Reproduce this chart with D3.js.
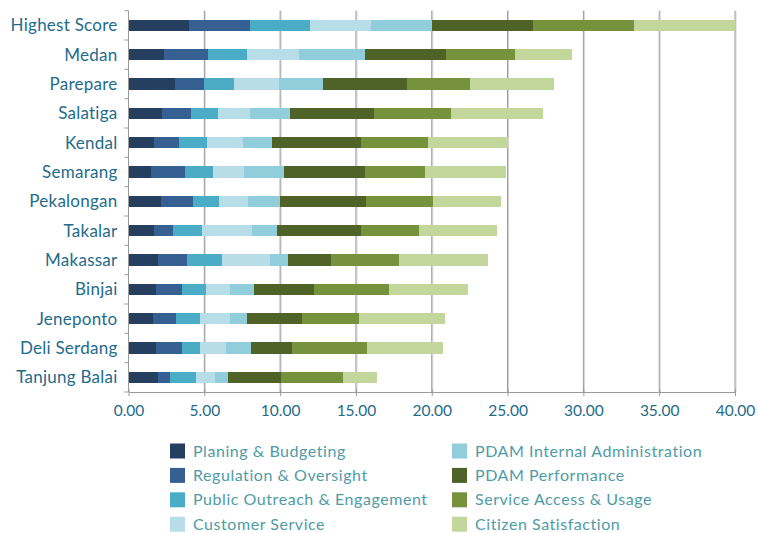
<!DOCTYPE html>
<html>
<head>
<meta charset="utf-8">
<script src="https://cdn.jsdelivr.net/npm/d3@7"></script>
<style>
  html, body { margin: 0; padding: 0; background: #fff; }
  svg { display: block; }
</style>
</head>
<body>
<svg id="chart" width="758" height="533"></svg>
<script>
const categories = ["Highest Score","Medan","Parepare","Salatiga","Kendal","Semarang","Pekalongan","Takalar","Makassar","Binjai","Jeneponto","Deli Serdang","Tanjung Balai"];
const seriesNames = ["Planing & Budgeting","Regulation & Oversight","Public Outreach & Engagement","Customer Service","PDAM Internal Administration","PDAM Performance","Service Access & Usage","Citizen Satisfaction"];
const planingBudgeting     = [4.00, 2.34, 3.07, 2.21, 1.68, 1.48, 2.14, 1.68, 1.95, 1.81, 1.62, 1.81, 1.95];
const regulationOversight  = [4.00, 2.90, 1.91, 1.91, 1.65, 2.25, 2.11, 1.26, 1.91, 1.72, 1.51, 1.72, 0.79];
const publicOutreach       = [4.00, 2.58, 1.98, 1.78, 1.85, 1.84, 1.72, 1.91, 2.31, 1.58, 1.59, 1.19, 1.71];
const customerService      = [4.00, 3.43, 2.97, 2.11, 2.37, 2.05, 1.91, 3.30, 3.16, 1.59, 1.98, 1.71, 1.26];
const internalAdmin        = [4.00, 4.35, 2.90, 2.64, 1.92, 2.64, 2.11, 1.65, 1.19, 1.58, 1.12, 1.65, 0.85];
const pdamPerformance      = [6.67, 5.34, 5.54, 5.54, 5.86, 5.34, 5.67, 5.53, 2.84, 3.96, 3.63, 2.70, 3.50];
const serviceAccess        = [6.67, 4.56, 4.13, 5.08, 4.42, 3.96, 4.43, 3.83, 4.48, 4.94, 3.75, 4.95, 4.09];
const citizenSatisfaction  = [6.66, 3.75, 5.57, 6.07, 5.25, 5.34, 4.48, 5.15, 5.87, 5.22, 5.68, 5.02, 2.24];
const xTicks = [0, 5, 10, 15, 20, 25, 30, 35, 40];
const colors = ["#243f60","#366092","#4bacc6","#b7dee8","#92cddc","#4f6228","#76923c","#c3d69b"];

(function () {
const seriesValues = [planingBudgeting, regulationOversight, publicOutreach, customerService, internalAdmin, pdamPerformance, serviceAccess, citizenSatisfaction];
const rows = categories.map((c, i) => {
  const r = { category: c };
  seriesNames.forEach((s, k) => r[s] = seriesValues[k][i]);
  return r;
});
const stacked = d3.stack().keys(seriesNames)(rows);

const svg = d3.select("#chart");
const mLeft = 128.5, mRight = 735, mTop = 10.7, mBottom = 392;
const x = d3.scaleLinear().domain([0, 40]).range([mLeft, mRight]);
const y = d3.scaleBand().domain(categories).range([mTop, mBottom]).paddingInner(0.62).paddingOuter(0.31);

const font = "Lato, 'Open Sans', sans-serif";

// grid lines
const grid = svg.append("g");
xTicks.filter(t => t > 0).forEach(t => {
  grid.append("line").attr("x1", x(t) + 1).attr("x2", x(t) + 1).attr("y1", mTop).attr("y2", mBottom)
    .attr("stroke", "#d4d4d4").attr("stroke-width", 1);
  grid.append("line").attr("x1", x(t)).attr("x2", x(t)).attr("y1", mTop).attr("y2", mBottom)
    .attr("stroke", "#9a9a9a").attr("stroke-width", 1);
});

// bars
svg.append("g").selectAll("g").data(stacked).join("g")
  .attr("fill", (d, i) => colors[i])
  .selectAll("rect").data(d => d).join("rect")
  .attr("x", d => x(d[0]))
  .attr("y", d => y(d.data.category))
  .attr("width", d => x(d[1]) - x(d[0]))
  .attr("height", y.bandwidth())
  .attr("shape-rendering", "crispEdges");

// x axis
const xAxis = d3.axisBottom(x).tickValues(xTicks).tickFormat(d3.format(".2f")).tickSize(4).tickSizeOuter(0);
const gx = svg.append("g").attr("transform", `translate(0,${mBottom})`).call(xAxis);
gx.select(".domain").attr("stroke", "#9a9a9a");
gx.selectAll(".tick line").attr("stroke", "#9a9a9a").attr("y1", -3).attr("y2", 4);
gx.selectAll(".tick text").attr("font-family", font).attr("font-size", 15.5).attr("fill", "#1f6b8a").attr("dy", "0.95em").attr("y", 9);

// y axis
const step = y.step();
const gy = svg.append("g").attr("transform", `translate(${mLeft},0)`);
gy.append("line").attr("x1", 0).attr("x2", 0).attr("y1", mTop).attr("y2", mBottom).attr("stroke", "#9a9a9a");
d3.range(categories.length + 1).forEach(i => {
  const yy = mTop + i * step;
  gy.append("line").attr("x1", -4).attr("x2", 0).attr("y1", yy).attr("y2", yy).attr("stroke", "#9a9a9a");
});
gy.selectAll("text.cat").data(categories).join("text").attr("class", "cat")
  .attr("x", -11).attr("y", d => y(d) + y.bandwidth() / 2)
  .attr("dy", "0.35em").attr("text-anchor", "end")
  .attr("font-family", font).attr("font-size", 17).attr("letter-spacing", 0.25).attr("fill", "#1f6b8a")
  .text(d => d);

// legend
const legend = svg.append("g");
seriesNames.forEach((s, i) => {
  const col = Math.floor(i / 4), row = i % 4;
  const lx = col === 0 ? 170 : 452;
  const ly = 451 + row * 24.4;
  legend.append("rect").attr("x", lx).attr("y", ly - 7.5).attr("width", 15).attr("height", 15).attr("fill", colors[i]);
  legend.append("text").attr("x", lx + 23).attr("y", ly).attr("dy", "0.35em")
    .attr("font-family", font).attr("font-size", 16).attr("letter-spacing", 0.55).attr("fill", "#4f9ba6").text(s);
});
})();
</script>
</body>
</html>
